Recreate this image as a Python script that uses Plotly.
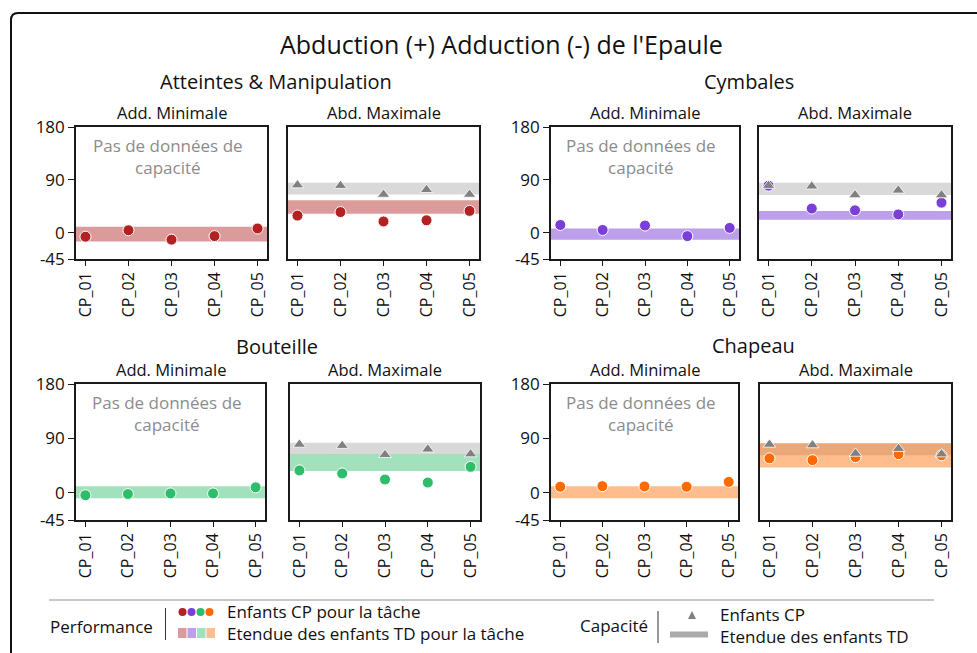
import plotly.graph_objects as go

# ---- data -----------------------------------------------------------------
participants = ["CP_01", "CP_02", "CP_03", "CP_04", "CP_05"]
tasks = ["Atteintes & Manipulation", "Cymbales", "Bouteille", "Chapeau"]

# Add. Minimale : performance of CP children and TD range (low, high)
atteintes_min = [-7, 4, -12, -6, 7]
cymbales_min = [13, 4.5, 12, -6, 8]
bouteille_min = [-4, -2, -1, -1, 9]
chapeau_min = [10, 11, 10.5, 10, 18]
atteintes_min_td = [-15, 10]
cymbales_min_td = [-12, 7]
bouteille_min_td = [-9, 11]
chapeau_min_td = [-9, 11]

# Abd. Maximale : performance of CP children and TD range
atteintes_max = [29, 35, 19, 21, 37]
cymbales_max = [80, 41, 38, 31, 51]
bouteille_max = [37, 32, 22, 17, 43]
chapeau_max = [57, 54, 59, 64, 62]
atteintes_max_td = [32, 55]
cymbales_max_td = [22, 37]
bouteille_max_td = [36, 64]
chapeau_max_td = [42, 82]

# Abd. Maximale : capacity of CP children and TD range
atteintes_cap = [81, 80, 65, 73, 65]
cymbales_cap = [80, 79, 64, 72, 64]
bouteille_cap = [80, 78, 63, 72, 64]
chapeau_cap = [80, 79, 65, 73, 64]
atteintes_cap_td = [65, 85]
cymbales_cap_td = [64, 85]
bouteille_cap_td = [64, 83]
chapeau_cap_td = [62, 82]

y_ticks = [-45, 0, 90, 180]

dot_colors = ["#b22222", "#7b3fd8", "#2ebd6b", "#ff6a00"]
band_colors = ["rgba(178,34,34,0.45)", "rgba(123,63,216,0.5)",
               "rgba(46,189,107,0.45)", "rgba(255,106,0,0.45)"]
cap_color = "#808080"
cap_band = "rgba(128,128,128,0.3)"

perf_min = [atteintes_min, cymbales_min, bouteille_min, chapeau_min]
perf_min_td = [atteintes_min_td, cymbales_min_td, bouteille_min_td, chapeau_min_td]
perf_max = [atteintes_max, cymbales_max, bouteille_max, chapeau_max]
perf_max_td = [atteintes_max_td, cymbales_max_td, bouteille_max_td, chapeau_max_td]
cap_max = [atteintes_cap, cymbales_cap, bouteille_cap, chapeau_cap]
cap_max_td = [atteintes_cap_td, cymbales_cap_td, bouteille_cap_td, chapeau_cap_td]

# ---- layout helpers (pixel -> paper) --------------------------------------
W, H = 977, 653
FONT = "Open Sans"


def fx(px):
    return px / W


def fy(py):
    return 1 - py / H


# panel boxes in pixels: (x0, x1, y0, y1), order: min, max for each task
panel_boxes = [
    (76, 267, 127, 259), (288, 479, 127, 259),
    (551, 739, 127, 259), (759, 951, 127, 259),
    (76, 265, 384, 520), (290, 480, 384, 520),
    (551, 738, 384, 520), (760, 951, 384, 520),
]
task_title_pos = [(276, 82), (749, 82), (277, 346), (753, 345)]

fig = go.Figure()
shapes = []
annotations = []

for t in range(4):
    for k in range(2):
        i = 2 * t + k + 1
        x0, x1, y0, y1 = panel_boxes[i - 1]
        xa = "x" if i == 1 else f"x{i}"
        ya = "y" if i == 1 else f"y{i}"
        is_min = (k == 0)

        fig.update_layout(**{
            ("xaxis" if i == 1 else f"xaxis{i}"): dict(
                domain=[fx(x0), fx(x1)], anchor=ya, type="category",
                categoryorder="array", categoryarray=participants,
                range=[-0.22, 4.22], showgrid=False, zeroline=False,
                showline=True, mirror=True, linecolor="#1a1a1a", linewidth=1.6,
                ticks="outside", ticklen=5, tickwidth=1.2, tickcolor="#1a1a1a",
                tickangle=-90, automargin=False,
                tickfont=dict(family=FONT, size=16, color="#111"),
            ),
            ("yaxis" if i == 1 else f"yaxis{i}"): dict(
                domain=[fy(y1), fy(y0)], anchor=xa, range=[-45, 180],
                tickvals=y_ticks, ticktext=[str(v) for v in y_ticks],
                showticklabels=is_min, ticks="outside" if is_min else "",
                ticklen=6, tickwidth=1.2, tickcolor="#1a1a1a",
                showgrid=False, zeroline=False, showline=True, mirror=True,
                linecolor="#1a1a1a", linewidth=1.6, automargin=False,
                tickfont=dict(family=FONT, size=17, color="#111"),
            ),
        })

        if is_min:
            lo, hi = perf_min_td[t]
            shapes.append(dict(type="rect", xref=f"{xa} domain", yref=ya,
                               x0=0, x1=1, y0=lo, y1=hi, layer="below",
                               fillcolor=band_colors[t], line=dict(width=0)))
            fig.add_trace(go.Scatter(
                x=participants, y=perf_min[t], mode="markers", xaxis=xa, yaxis=ya,
                marker=dict(size=11, color=dot_colors[t],
                            line=dict(color="white", width=1)),
                showlegend=False, hoverinfo="skip"))
            annotations.append(dict(
                xref=f"{xa} domain", yref=f"{ya} domain", x=0.48, y=0.96,
                xanchor="center", yanchor="top", showarrow=False,
                text="Pas de données de<br>capacité", align="center",
                font=dict(family=FONT, size=17, color="#8c8c8c")))
            annotations.append(dict(
                xref=f"{xa} domain", yref=f"{ya} domain", x=0.5, y=1.0,
                yshift=1, xanchor="center", yanchor="bottom", showarrow=False,
                text="Add. Minimale", font=dict(family=FONT, size=16.5, color="#111")))
        else:
            clo, chi = cap_max_td[t]
            shapes.append(dict(type="rect", xref=f"{xa} domain", yref=ya,
                               x0=0, x1=1, y0=clo, y1=chi, layer="below",
                               fillcolor=cap_band, line=dict(width=0)))
            lo, hi = perf_max_td[t]
            shapes.append(dict(type="rect", xref=f"{xa} domain", yref=ya,
                               x0=0, x1=1, y0=lo, y1=hi, layer="below",
                               fillcolor=band_colors[t], line=dict(width=0)))
            fig.add_trace(go.Scatter(
                x=participants, y=perf_max[t], mode="markers", xaxis=xa, yaxis=ya,
                marker=dict(size=11, color=dot_colors[t],
                            line=dict(color="white", width=1)),
                showlegend=False, hoverinfo="skip"))
            fig.add_trace(go.Scatter(
                x=participants, y=cap_max[t], mode="markers", xaxis=xa, yaxis=ya,
                marker=dict(size=11, symbol="triangle-up", color=cap_color,
                            line=dict(color="white", width=0.8)),
                showlegend=False, hoverinfo="skip"))
            annotations.append(dict(
                xref=f"{xa} domain", yref=f"{ya} domain", x=0.5, y=1.0,
                yshift=1, xanchor="center", yanchor="bottom", showarrow=False,
                text="Abd. Maximale", font=dict(family=FONT, size=16.5, color="#111")))

    tx, ty = task_title_pos[t]
    annotations.append(dict(xref="paper", yref="paper", x=fx(tx), y=fy(ty),
                            xanchor="center", yanchor="middle", showarrow=False,
                            text=tasks[t], font=dict(family=FONT, size=20, color="#111")))

# main title
annotations.append(dict(xref="paper", yref="paper", x=fx(501), y=fy(44),
                        xanchor="center", yanchor="middle", showarrow=False,
                        text="Abduction (+) Adduction (-) de l'Epaule",
                        font=dict(family=FONT, size=25, color="#111")))

# outer frame with rounded top-left corner
r = 7
shapes.append(dict(type="path", xref="paper", yref="paper",
                   path=(f"M {fx(11)},{fy(700)} L {fx(11)},{fy(13 + r)} "
                         f"Q {fx(11)},{fy(13)} {fx(11 + r)},{fy(13)} L {fx(1000)},{fy(13)}"),
                   line=dict(color="#111", width=2)))

# ---- legend -----------------------------------------------------------------
LEG = dict(family=FONT, size=17, color="#111")
shapes.append(dict(type="line", xref="paper", yref="paper",
                   x0=fx(49), x1=fx(934), y0=fy(600), y1=fy(600),
                   line=dict(color="#b4b4b4", width=1.6)))
shapes.append(dict(type="line", xref="paper", yref="paper",
                   x0=fx(165.5), x1=fx(165.5), y0=fy(608), y1=fy(640),
                   line=dict(color="#333", width=1)))
shapes.append(dict(type="line", xref="paper", yref="paper",
                   x0=fx(658), x1=fx(658), y0=fy(611), y1=fy(643),
                   line=dict(color="#333", width=1)))
for j in range(4):
    cx = 182.5 + 9 * j
    shapes.append(dict(type="circle", xref="paper", yref="paper",
                       x0=fx(cx - 4), x1=fx(cx + 4), y0=fy(608), y1=fy(616),
                       fillcolor=dot_colors[j], line=dict(width=0)))
    shapes.append(dict(type="rect", xref="paper", yref="paper",
                       x0=fx(178 + 9.5 * j), x1=fx(178 + 9.5 * j + 8.5),
                       y0=fy(638), y1=fy(628),
                       fillcolor=band_colors[j], line=dict(width=0)))
shapes.append(dict(type="path", xref="paper", yref="paper",
                   path=(f"M {fx(688)},{fy(619)} L {fx(696)},{fy(619)} "
                         f"L {fx(692)},{fy(611)} Z"),
                   fillcolor=cap_color, line=dict(width=0)))
shapes.append(dict(type="rect", xref="paper", yref="paper",
                   x0=fx(670), x1=fx(708), y0=fy(637.5), y1=fy(631.5),
                   fillcolor="#aaaaaa", line=dict(width=0)))

legend_texts = [
    ("Performance", 48, 626),
    ("Enfants CP pour la tâche<br>Etendue des enfants TD pour la tâche", 225, 622.5),
    ("Capacité", 578, 625),
    ("Enfants CP<br>Etendue des enfants TD", 718, 625),
]
for txt, x, y in legend_texts:
    annotations.append(dict(xref="paper", yref="paper", x=fx(x), y=fy(y),
                            xanchor="left", yanchor="middle", showarrow=False,
                            align="left", text=txt, font=LEG))

fig.update_layout(
    width=W, height=H, autosize=False,
    margin=dict(l=0, r=0, t=0, b=0, pad=0, autoexpand=False),
    paper_bgcolor="white", plot_bgcolor="white",
    showlegend=False, shapes=shapes, annotations=annotations,
    font=dict(family=FONT, color="#111"),
)

fig.write_html("out.html")
